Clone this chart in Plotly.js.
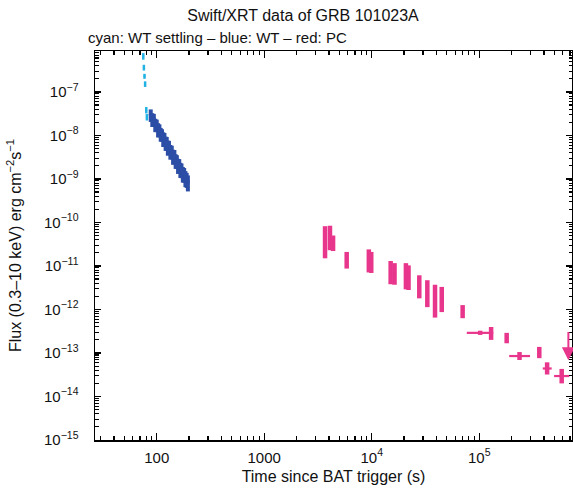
<!DOCTYPE html>
<html>
<head>
<meta charset="utf-8">
<script src="https://cdn.plot.ly/plotly-3.0.1.min.js"></script>
<style>html,body{margin:0;padding:0;background:#fff;}#plot{width:573px;height:488px;}</style>
</head>
<body>
<div id="plot"></div>
<script>
// ---- data ----
// cyan: WT settling
const cyanT  = [75, 76, 77, 78, 80, 81];
const cyanF  = [6.6e-7, 3.6e-7, 2.3e-7, 1.5e-7, 3.8e-8, 2.6e-8];
const cyanLo = [5.5e-7, 3.1e-7, 2.0e-7, 1.3e-7, 3.2e-8, 2.2e-8];
const cyanHi = [7.8e-7, 4.2e-7, 2.6e-7, 1.75e-7, 4.5e-8, 3.1e-8];

// blue: WT
const blueT = [88, 91, 94, 97, 100, 103, 106, 109, 112, 115, 118, 121, 124, 127, 130,
               134, 138, 142, 146, 150, 154, 158, 162, 166, 170, 175, 180, 185, 190, 195];
const blueF = [3.0e-8, 2.4e-8, 2.4e-8, 1.8e-8, 1.75e-8, 1.4e-8, 1.35e-8, 1.1e-8, 1.05e-8, 8.6e-9,
               8.5e-9, 6.9e-9, 6.8e-9, 5.5e-9, 5.6e-9, 4.4e-9, 4.3e-9, 3.4e-9, 3.4e-9, 2.7e-9,
               2.6e-9, 2.1e-9, 2.1e-9, 1.7e-9, 1.65e-9, 1.35e-9, 1.3e-9, 1.08e-9, 1.0e-9, 8.6e-10];
const blueRelErr = [0.32, 0.35, 0.3, 0.34, 0.32, 0.36, 0.33, 0.35, 0.32, 0.37,
                    0.34, 0.36, 0.35, 0.38, 0.34, 0.37, 0.35, 0.38, 0.36, 0.37,
                    0.35, 0.38, 0.36, 0.38, 0.37, 0.39, 0.37, 0.4, 0.38, 0.4];

// red: PC
const redT   = [3680, 4090, 4370, 5850, 9400, 9900, 15000, 16300, 20800, 22000, 27700, 32900,
                38800, 44800, 70100, 102000, 129000, 180000, 237000, 362000, 428000, 585000];
const redTLo = [3600, 4000, 4300, 5750, 9200, 9700, 14700, 16000, 20400, 21600, 27200, 32300,
                38100, 44000, 68500, 76600, 126000, 176000, 190000, 354000, 390000, 497000];
const redTHi = [3760, 4180, 4450, 5950, 9600, 10100, 15300, 16600, 21200, 22400, 28200, 33500,
                39500, 45600, 71700, 135000, 132000, 184000, 297000, 370000, 472000, 689000];
const redF   = [3.5e-11, 4.4e-11, 3.3e-11, 1.35e-11, 1.3e-11, 1.2e-11, 7.0e-12, 6.5e-12, 5.8e-12, 5.4e-12,
                3.3e-12, 2.3e-12, 1.55e-12, 1.7e-12, 8.9e-13, 2.9e-13, 2.8e-13, 2.2e-13, 8.5e-14, 1.02e-13,
                4.4e-14, 2.95e-14];
const redLo  = [1.5e-11, 2.3e-11, 2.2e-11, 8.7e-12, 7.1e-12, 6.9e-12, 3.8e-12, 3.7e-12, 2.9e-12, 2.8e-12,
                1.8e-12, 1.13e-12, 6.5e-13, 8.7e-13, 6.3e-13, 2.6e-13, 2.0e-13, 1.67e-13, 6.9e-14, 7.6e-14,
                3.2e-14, 2.0e-14];
const redHi  = [8.2e-11, 8.4e-11, 5.0e-11, 2.1e-11, 2.4e-11, 2.1e-11, 1.3e-11, 1.16e-11, 1.16e-11, 1.03e-11,
                6.1e-12, 4.7e-12, 3.7e-12, 3.3e-12, 1.26e-12, 3.25e-13, 3.95e-13, 2.9e-13, 1.05e-13, 1.38e-13,
                6.1e-14, 4.3e-14];

// upper limit (PC)
const ulT = 675000;
const ulF = 3.3e-13;
const ulTip = 6.8e-14;

// axis ticks
const xTickVals = [100, 1000, 1e4, 1e5];
const xTickText = ['100', '1000', '10<sup>4</sup>', '10<sup>5</sup>'];
const yTickVals = [1e-7, 1e-8, 1e-9, 1e-10, 1e-11, 1e-12, 1e-13, 1e-14, 1e-15];
const yTickText = ['10<sup>−7</sup>', '10<sup>−8</sup>', '10<sup>−9</sup>', '10<sup>−10</sup>', '10<sup>−11</sup>',
                   '10<sup>−12</sup>', '10<sup>−13</sup>', '10<sup>−14</sup>', '10<sup>−15</sup>'];

// ---- build ----
const CYAN = '#22b2e4', BLUE = '#2c4ea6', RED = '#e8368c';
function minorVals(e0, e1) {
  const v = [];
  for (let e = e0; e <= e1; e++) for (let d = 2; d <= 9; d++) v.push(d * Math.pow(10, e));
  return v;
}
const sub = (a, b) => a.map((v, i) => v - b[i]);

const traces = [
  {
    x: cyanT, y: cyanF, type: 'scatter', mode: 'markers',
    marker: {size: 2, color: CYAN},
    error_y: {type: 'data', symmetric: false, array: sub(cyanHi, cyanF), arrayminus: sub(cyanF, cyanLo),
              thickness: 2.5, width: 0, color: CYAN},
    hoverinfo: 'skip', showlegend: false
  },
  {
    x: blueT, y: blueF, type: 'scatter', mode: 'markers',
    marker: {size: 4, color: BLUE},
    error_y: {type: 'data', array: blueF.map((f, i) => f * blueRelErr[i]), thickness: 4, width: 0, color: BLUE},
    error_x: {type: 'data', array: blueT.map(() => 1.5), thickness: 2, width: 0, color: BLUE},
    hoverinfo: 'skip', showlegend: false
  },
  {
    x: redT, y: redF, type: 'scatter', mode: 'markers',
    marker: {size: 3, color: RED},
    error_y: {type: 'data', symmetric: false, array: sub(redHi, redF), arrayminus: sub(redF, redLo),
              thickness: 4.5, width: 0, color: RED},
    error_x: {type: 'data', symmetric: false, array: sub(redTHi, redT), arrayminus: sub(redT, redTLo),
              thickness: 2.2, width: 0, color: RED},
    hoverinfo: 'skip', showlegend: false
  }
];

const FONT = 'Liberation Sans, Arial, sans-serif';
const layout = {
  width: 573, height: 488,
  margin: {l: 95, r: 1, t: 51, b: 48},
  paper_bgcolor: '#ffffff', plot_bgcolor: '#ffffff',
  font: {family: FONT, size: 15, color: '#111'},
  title: {text: 'Swift/XRT data of GRB 101023A', x: 303 / 573, xref: 'container', xanchor: 'center',
          y: 1 - 15 / 488, yref: 'container', yanchor: 'middle', font: {family: FONT, size: 16, color: '#111'}},
  xaxis: {
    type: 'log', range: [1.426, 5.863], showgrid: false, zeroline: false,
    showline: true, linecolor: '#000', linewidth: 1.5, mirror: 'allticks',
    ticks: 'inside', ticklen: 7, tickwidth: 1.3, tickcolor: '#000',
    tickmode: 'array', tickvals: xTickVals, ticktext: xTickText,
    tickfont: {family: FONT, size: 15, color: '#111'}, ticklabelstandoff: 3,
    minor: {tickmode: 'array', tickvals: minorVals(1, 5), ticks: 'inside', ticklen: 4, tickwidth: 1.2, tickcolor: '#000'},
    title: {text: 'Time since BAT trigger (s)', font: {family: FONT, size: 16, color: '#111'}, standoff: 6}
  },
  yaxis: {
    type: 'log', range: [-15, -6.06], showgrid: false, zeroline: false,
    showline: true, linecolor: '#000', linewidth: 1.5, mirror: 'allticks',
    ticks: 'inside', ticklen: 6, tickwidth: 1.3, tickcolor: '#000',
    tickmode: 'array', tickvals: yTickVals, ticktext: yTickText,
    tickfont: {family: FONT, size: 15, color: '#111'}, ticklabelstandoff: 12,
    minor: {tickmode: 'array', tickvals: minorVals(-16, -7), ticks: 'inside', ticklen: 3.5, tickwidth: 1.1, tickcolor: '#000'},
    title: {text: 'Flux (0.3–10 keV) erg cm<sup>−2</sup>s<sup>−1</sup>', font: {family: FONT, size: 16, color: '#111'}, standoff: 18}
  },
  annotations: [
    {text: 'cyan: WT settling – blue: WT – red: PC', xref: 'paper', yref: 'paper',
     x: (86 - 95) / 477, y: (440 - 37) / 389, xanchor: 'left', yanchor: 'middle', showarrow: false,
     font: {family: FONT, size: 15, color: '#111'}},
    {x: Math.log10(ulT), y: Math.log10(ulTip), ax: Math.log10(ulT), ay: Math.log10(ulF),
     xref: 'x', yref: 'y', axref: 'x', ayref: 'y', text: '', showarrow: true,
     arrowhead: 2, arrowsize: 1.3, arrowwidth: 2, arrowcolor: RED}
  ]
};

Plotly.newPlot('plot', traces, layout, {displayModeBar: false, staticPlot: true});
</script>
</body>
</html>
